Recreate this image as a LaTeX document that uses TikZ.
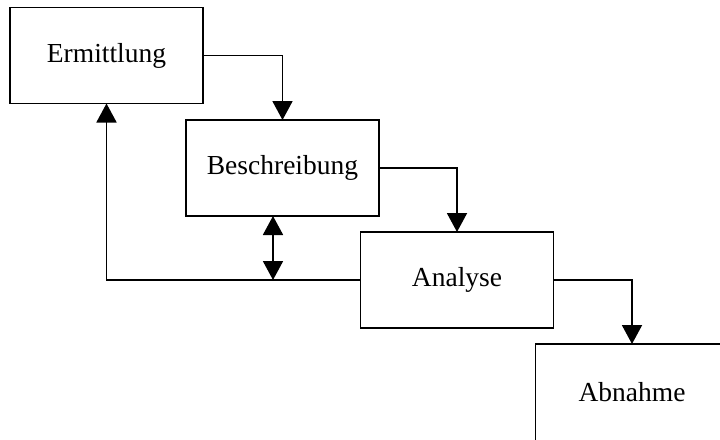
\documentclass[tikz,border=0pt]{standalone}
\usepackage{fontspec}
\setmainfont{Liberation Serif}
\usetikzlibrary{arrows.meta}
\begin{document}
\begin{tikzpicture}[x=1pt,y=-1pt,
  box/.style={line width=1.9pt, minimum width=193pt, minimum height=96pt,
    inner sep=0pt, outer sep=0pt, font=\fontsize{27.5}{31}\selectfont},
  phase/.style={box, draw},
  flow/.style={draw, line width=1.9pt, -{Triangle[width=20pt,length=19pt]}},
  both/.style={draw, line width=1.9pt, {Triangle[width=20pt,length=19pt]}-{Triangle[width=20pt,length=19pt]}}]
\useasboundingbox (0,0) rectangle (720,439);
\clip (0,0) rectangle (720,439);
% phase boxes
\node[phase] (E) at (106.5,55.5) {Ermittlung};
\node[phase] (B) at (282.5,168) {Beschreibung};
\node[phase] (A) at (457,280) {Analyse};
\node[box] (N) at (632,392) {Abnahme};
% last box runs past the page edges
\draw[line width=1.9pt] ([yshift=-20pt]N.south west) -- (N.north west) -- ([xshift=20pt]N.north east);
% forward flow
\draw[flow] (E.east) -| (B.north);
\draw[flow] (B.east) -| (A.north);
\draw[flow] (A.east) -| (N.north);
% feedback loop
\draw[flow] (A.west) -| (E.south);
\coordinate (j) at (273,280);
\draw[both] (j |- B.south) -- (j);
\end{tikzpicture}
\end{document}
